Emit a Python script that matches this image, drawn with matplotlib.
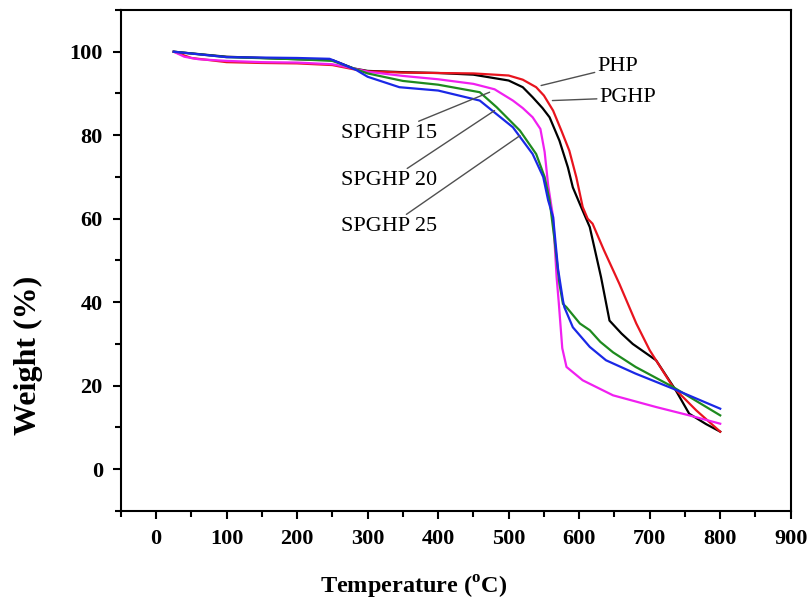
import matplotlib
matplotlib.use("Agg")
import matplotlib.pyplot as plt
from matplotlib.ticker import MultipleLocator

plt.rcParams['font.family'] = ['Liberation Serif', 'DejaVu Serif']
plt.rcParams['mathtext.fontset'] = 'custom'
plt.rcParams['mathtext.rm'] = 'Liberation Serif:bold'
plt.rcParams['mathtext.bf'] = 'Liberation Serif:bold'

# TGA curves (temperature in C, weight in %)
php_t = [25, 50, 100, 150, 200, 250, 280, 300, 350, 400, 450, 500, 520, 539, 550, 563,
         575, 586, 596, 605, 612, 619, 635, 657, 681, 700, 733, 766, 800]
php_w = [100, 98.5, 97.5, 97.3, 97.2, 96.8, 95.8, 95.3, 95.0, 94.9, 94.8, 94.3, 93.3, 91.5,
         89.5, 85.9, 81.0, 76.3, 69.9, 62.8, 60.0, 58.8, 52.5, 44.4, 34.9, 28.5, 19.7, 14.1, 9.0]

pghp_t = [25, 100, 200, 250, 280, 300, 350, 400, 450, 500, 520, 534, 548, 558, 572, 584,
          591, 601, 615, 631, 643, 660, 676, 709, 737, 756, 780, 800]
pghp_w = [100, 98.8, 98.2, 98.0, 96.0, 95.4, 95.1, 94.9, 94.5, 93.1, 91.5, 89.1, 86.5, 84.3,
          78.7, 72.3, 67.5, 63.5, 58.0, 46.0, 35.6, 32.5, 30.0, 26.1, 18.9, 13.3, 10.8, 9.0]

sp15_t = [25, 40, 60, 100, 150, 200, 250, 280, 300, 350, 400, 450, 480, 506, 520, 534, 545,
          551, 556, 563, 568, 571, 576, 582, 605, 648, 709, 756, 800]
sp15_w = [100, 98.8, 98.2, 97.8, 97.5, 97.4, 97.0, 96.0, 95.2, 94.2, 93.4, 92.3, 91.0, 88.3,
          86.5, 84.3, 81.5, 76.0, 68.0, 60.4, 46.0, 40.0, 29.0, 24.5, 21.3, 17.7, 14.9, 12.9, 10.9]

sp20_t = [25, 100, 200, 250, 280, 300, 350, 400, 459, 483, 516, 539, 551, 558, 565, 572,
          577, 582, 601, 615, 630, 648, 680, 733, 800]
sp20_w = [100, 98.7, 98.2, 97.8, 96.0, 94.8, 93.0, 92.1, 90.3, 86.7, 81.1, 75.5, 70.0, 64.4,
          55.0, 44.4, 39.6, 38.8, 34.9, 33.3, 30.5, 28.0, 24.5, 19.7, 12.9]

sp25_t = [25, 100, 200, 246, 265, 284, 300, 345, 400, 459, 506, 534, 549, 556, 563, 570,
          577, 579, 591, 615, 638, 680, 733, 800]
sp25_w = [100, 98.7, 98.5, 98.3, 97.0, 95.6, 94.0, 91.5, 90.7, 88.3, 81.9, 75.5, 70.0, 64.4,
          60.4, 48.0, 40.4, 38.8, 34.0, 29.3, 26.1, 22.9, 19.3, 14.5]

fig = plt.figure(figsize=(8.11, 6.11), dpi=100)
ax = fig.add_axes([0.149, 0.1637, 0.826, 0.82])

ax.plot(pghp_t, pghp_w, color='black', lw=1.6)
ax.plot(php_t, php_w, color='#e8141e', lw=1.6)
ax.plot(sp15_t, sp15_w, color='#f020f0', lw=1.6)
ax.plot(sp20_t, sp20_w, color='#1e8a1e', lw=1.6)
ax.plot(sp25_t, sp25_w, color='#1a28e6', lw=1.6)

# labels with leader lines
line_kw = dict(arrowstyle='-', color='#505050', lw=1.0, shrinkA=0, shrinkB=0)
ax.annotate('PHP', xy=(546, 91.9), xytext=(626, 96.4), fontsize=16, va='center',
            arrowprops=line_kw)
ax.annotate('PGHP', xy=(562, 88.3), xytext=(629, 89.0), fontsize=16, va='center',
            arrowprops=line_kw)
ax.annotate('SPGHP 15', xy=(473, 90.3), xytext=(398, 80.4), fontsize=16, va='center',
            ha='right', arrowprops=line_kw)
ax.annotate('SPGHP 20', xy=(480, 85.9), xytext=(398, 69.1), fontsize=16, va='center',
            ha='right', arrowprops=line_kw)
ax.annotate('SPGHP 25', xy=(516, 79.9), xytext=(398, 58.1), fontsize=16, va='center',
            ha='right', arrowprops=line_kw)

ax.set_xlim(-50, 900)
ax.set_ylim(-10, 110)
ax.set_xticks(range(0, 901, 100))
ax.set_yticks(range(0, 101, 20))
ax.xaxis.set_minor_locator(MultipleLocator(50))
ax.yaxis.set_minor_locator(MultipleLocator(10))
ax.tick_params(which='both', direction='out', top=False, right=False, width=1.5)
ax.tick_params(which='major', length=6, labelsize=16, pad=7)
ax.tick_params(which='minor', length=4)
for lab in ax.get_xticklabels() + ax.get_yticklabels():
    lab.set_fontweight('bold')
for sp in ax.spines.values():
    sp.set_linewidth(1.5)

ax.set_xlabel(r'Temperature ($^{\mathrm{o}}$C)', fontsize=17.5, fontweight='bold')
ax.set_ylabel('Weight (%)', fontsize=23, fontweight='bold')
ax.xaxis.set_label_coords(0.437, -0.125)
ax.yaxis.set_label_coords(-0.116, 0.31)

fig.savefig('out.png', dpi=100)
